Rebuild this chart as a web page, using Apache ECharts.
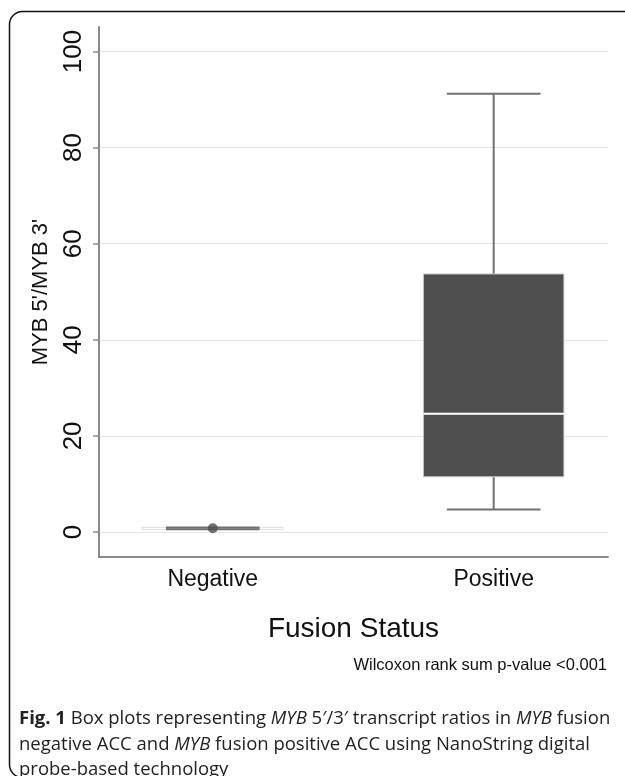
<!DOCTYPE html>
<html>
<head>
<meta charset="utf-8">
<script src="https://cdn.jsdelivr.net/npm/echarts@6/dist/echarts.min.js"></script>
<style>
html,body{margin:0;padding:0;background:#fff;}
#chart{width:625px;height:776px;}
</style>
</head>
<body>
<div id="chart"></div>
<script>
// ---- data ----
var categories = ['Negative', 'Positive'];
var whiskerMin = [0.55, 4.7];
var q1Values = [0.55, 11.5];
var medianValues = [0.75, 24.6];
var q3Values = [0.95, 53.7];
var whiskerMax = [0.95, 91.2];
var outliers = [[0, 0.8]];
var yTicks = [0, 20, 40, 60, 80, 100];
var xTicks = [0, 1];

var boxData = categories.map(function (c, i) {
  return [i, whiskerMin[i], q1Values[i], medianValues[i], q3Values[i], whiskerMax[i]];
});

var chart = echarts.init(document.getElementById('chart'), null, {renderer: 'canvas'});

function renderBox(params, api) {
  var x = api.value(0);
  var band = api.size([1, 0])[0];
  var half = band * 0.25;
  var capHalf = half * 2 / 3;
  var pMin = api.coord([x, api.value(1)]);
  var pQ1 = api.coord([x, api.value(2)]);
  var pMed = api.coord([x, api.value(3)]);
  var pQ3 = api.coord([x, api.value(4)]);
  var pMax = api.coord([x, api.value(5)]);
  var cx = pQ1[0];
  var whiskerStyle = {stroke: '#707070', lineWidth: 2};
  return {
    type: 'group',
    children: [
      {type: 'line', shape: {x1: cx, y1: pQ3[1], x2: cx, y2: pMax[1]}, style: whiskerStyle},
      {type: 'line', shape: {x1: cx, y1: pQ1[1], x2: cx, y2: pMin[1]}, style: whiskerStyle},
      {type: 'rect', shape: {x: cx - half, y: pQ3[1], width: half * 2, height: pQ1[1] - pQ3[1]},
        style: {fill: '#4f4f4f', stroke: '#c4c4c4', lineWidth: 1}},
      {type: 'line', shape: {x1: cx - half, y1: pMed[1], x2: cx + half, y2: pMed[1]},
        style: {stroke: '#ffffff', lineWidth: 2}},
      {type: 'line', shape: {x1: cx - capHalf, y1: pMax[1], x2: cx + capHalf, y2: pMax[1]}, style: whiskerStyle},
      {type: 'line', shape: {x1: cx - capHalf, y1: pMin[1], x2: cx + capHalf, y2: pMin[1]}, style: whiskerStyle}
    ]
  };
}

var option = {
  animation: false,
  backgroundColor: '#ffffff',
  textStyle: {fontFamily: 'Liberation Sans, Arial, sans-serif'},
  title: [{
    text: '{b|Fig. 1} Box plots representing {i|MYB} 5\u2032/3\u2032 transcript ratios in {i|MYB} fusion\nnegative ACC and {i|MYB} fusion positive ACC using NanoString digital\nprobe-based technology',
    left: 19, top: 706, padding: 0,
    textStyle: {
      fontFamily: 'Open Sans', fontSize: 18.5, color: '#222', fontWeight: 'normal', lineHeight: 25.5,
      rich: {
        b: {fontFamily: 'Open Sans', fontSize: 18.5, fontWeight: 'bold', color: '#222', lineHeight: 25.5},
        i: {fontFamily: 'Open Sans', fontSize: 18.5, fontStyle: 'italic', color: '#222', lineHeight: 25.5}
      }
    }
  }, {
    text: 'Wilcoxon rank sum p-value <0.001',
    right: 18, top: 657, padding: 0,
    textStyle: {fontFamily: 'Liberation Sans', fontSize: 16.5, fontWeight: 'normal', color: '#111'}
  }],
  graphic: [{
    type: 'rect', silent: true, z: 100,
    shape: {x: 9.5, y: 11.5, width: 640, height: 766, r: 13},
    style: {fill: 'none', stroke: '#111', lineWidth: 1.5}
  }],
  grid: {left: 99, right: 17, top: 27, bottom: 219},
  xAxis: {
    type: 'value', min: -0.405, max: 1.407,
    axisLine: {show: true, onZero: false, lineStyle: {color: '#8a8a8a', width: 2}},
    axisTick: {show: false, customValues: xTicks},
    splitLine: {show: false},
    axisLabel: {
      customValues: xTicks, margin: 11, fontSize: 23, color: '#111',
      formatter: function (v) { return categories[Math.round(v)]; }
    },
    name: 'Fusion Status', nameLocation: 'middle', nameGap: 58,
    nameTextStyle: {fontSize: 28, color: '#111'}
  },
  yAxis: {
    type: 'value', min: -5.2, max: 105.1,
    axisLine: {show: true, onZero: false, lineStyle: {color: '#8a8a8a', width: 2}},
    axisTick: {show: true, length: 6, customValues: yTicks, lineStyle: {color: '#8a8a8a', width: 1.5}},
    splitLine: {show: true, lineStyle: {color: '#e6e6e6', width: 1}},
    axisLabel: {customValues: yTicks, rotate: 90, margin: 12, fontSize: 26, color: '#111'},
    name: "MYB 5'/MYB 3'", nameLocation: 'middle', nameGap: 47,
    nameTextStyle: {fontSize: 22, color: '#111'}
  },
  series: [{
    type: 'custom',
    renderItem: renderBox,
    data: boxData,
    encode: {x: 0, y: [1, 2, 3, 4, 5]},
    z: 2
  }, {
    type: 'scatter',
    data: outliers,
    symbol: 'circle', symbolSize: 10,
    itemStyle: {color: '#4f4f4f'},
    z: 3
  }]
};
chart.setOption(option);
</script>
</body>
</html>
